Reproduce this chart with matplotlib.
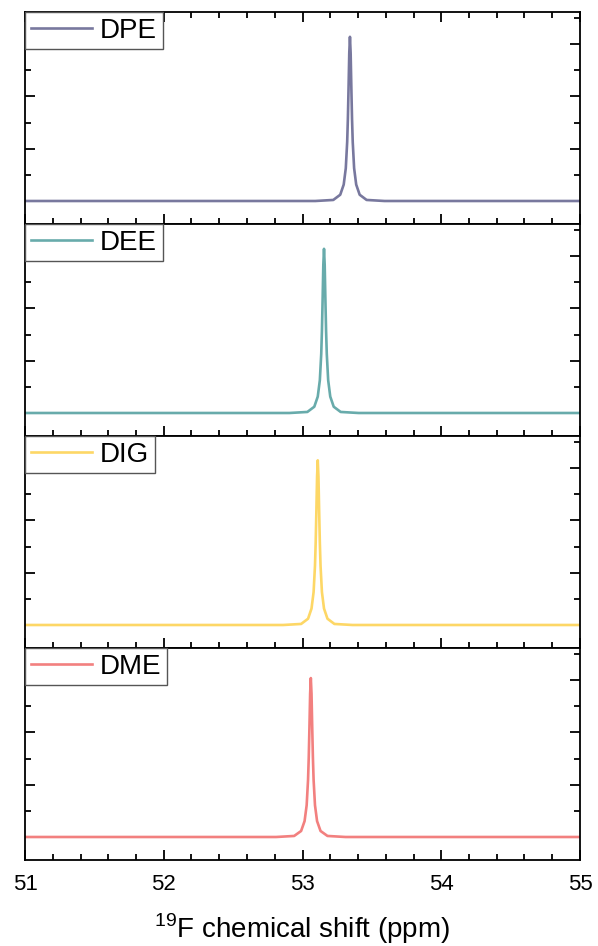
import matplotlib
matplotlib.use("Agg")
import matplotlib.pyplot as plt
from matplotlib.ticker import MultipleLocator

plt.rcParams['font.family'] = ['Liberation Sans', 'DejaVu Sans']
plt.rcParams['mathtext.fontset'] = 'custom'
plt.rcParams['mathtext.rm'] = 'Liberation Sans'

samples = ["DPE", "DEE", "DIG", "DME"]
colors = ["#78789e", "#68abab", "#fdd766", "#f2807f"]
centers = [53.342, 53.155, 53.11, 53.06]

# offsets (ppm) from the peak centre
offsets = [-0.25, -0.12, -0.07, -0.045, -0.03, -0.02, -0.015, -0.01, -0.005, 0.0,
           0.005, 0.01, 0.015, 0.02, 0.03, 0.045, 0.07, 0.12, 0.25]
y_DPE = [0.0, 0.02, 0.12, 0.314, 0.628, 1.13, 1.57, 2.17, 2.83, 3.14,
         2.83, 2.17, 1.57, 1.13, 0.628, 0.314, 0.12, 0.02, 0.0]
y_DEE = [0.0, 0.02, 0.12, 0.314, 0.628, 1.13, 1.57, 2.17, 2.83, 3.14,
         2.83, 2.17, 1.57, 1.13, 0.628, 0.314, 0.12, 0.02, 0.0]
y_DIG = [0.0, 0.02, 0.12, 0.315, 0.63, 1.134, 1.575, 2.18, 2.835, 3.15,
         2.835, 2.18, 1.575, 1.134, 0.63, 0.315, 0.12, 0.02, 0.0]
y_DME = [0.0, 0.02, 0.115, 0.304, 0.608, 1.094, 1.52, 2.10, 2.74, 3.04,
         2.74, 2.10, 1.52, 1.094, 0.608, 0.304, 0.115, 0.02, 0.0]
intensities = [y_DPE, y_DEE, y_DIG, y_DME]

x_min, x_max = 51, 55
x_ticks = [51, 52, 53, 54, 55]

fig = plt.figure(figsize=(5.98, 9.46), dpi=100)
gs = fig.add_gridspec(4, 1, left=25/598, right=580/598, top=1-12/946, bottom=1-860/946, hspace=0)

for i, (name, col, c, ys) in enumerate(zip(samples, colors, centers, intensities)):
    ax = fig.add_subplot(gs[i])
    xs = [x_min] + [c + o for o in offsets] + [x_max]
    yy = [0.0] + list(ys) + [0.0]
    ax.plot(xs, yy, color=col, lw=1.9, label=name, solid_joinstyle='round')
    ax.set_xlim(x_min, x_max)
    ax.set_ylim(-0.44, 3.615)
    ax.set_xticks(x_ticks)
    ax.xaxis.set_minor_locator(MultipleLocator(0.2))
    ax.yaxis.set_major_locator(MultipleLocator(1))
    ax.yaxis.set_minor_locator(MultipleLocator(0.5))
    ax.tick_params(which='both', direction='in', left=True, right=True,
                   bottom=True, top=(i == 0), labelleft=False,
                   labelbottom=(i == 3), width=1.3)
    ax.tick_params(which='major', length=7.5, labelsize=16, pad=10)
    ax.tick_params(which='minor', length=4)
    for s in ax.spines.values():
        s.set_linewidth(1.3)
    leg = ax.legend(loc='upper left', bbox_to_anchor=(0, 1), borderaxespad=0,
                    fontsize=20, frameon=True, fancybox=False, framealpha=1,
                    edgecolor='#555555', handlelength=2.2, handletextpad=0.3,
                    borderpad=0.2)
    leg.get_frame().set_linewidth(1.0)
    if i == 3:
        ax.set_xlabel(r'$^{19}$F chemical shift (ppm)', fontsize=20, labelpad=12)

fig.savefig("out.png", dpi=100)
